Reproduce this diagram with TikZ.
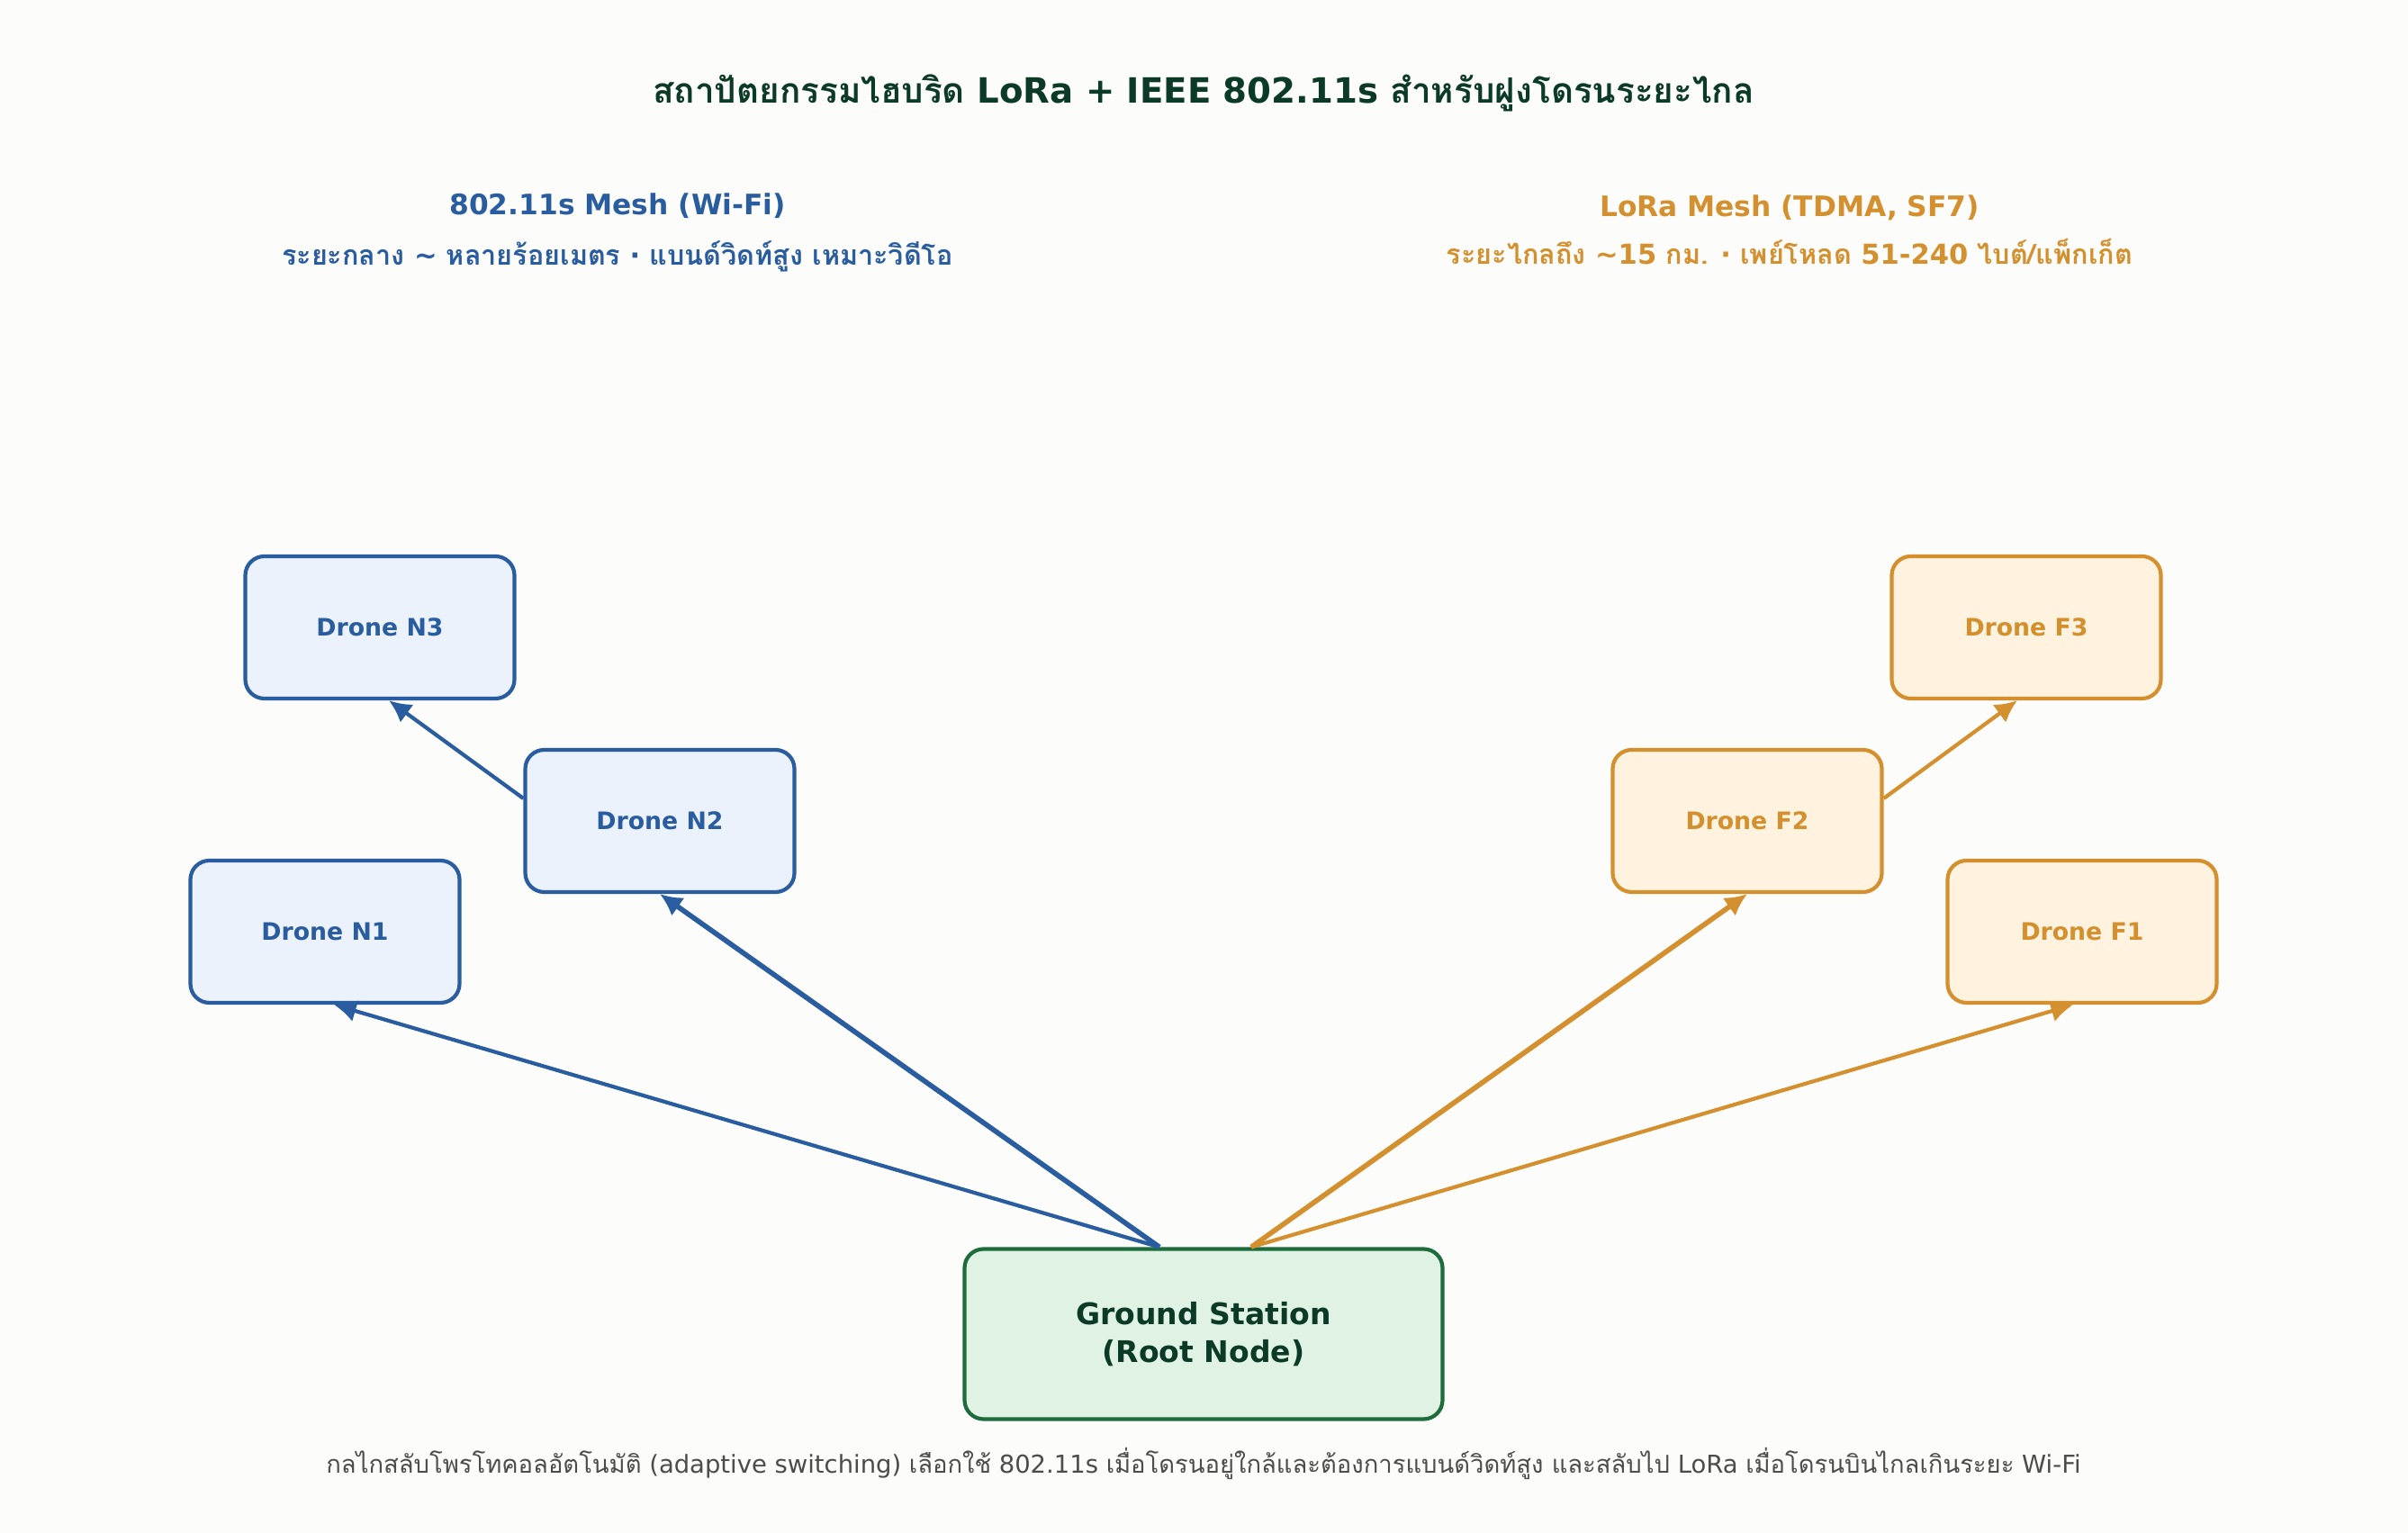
\documentclass[tikz,border=0pt]{standalone}
\usepackage{fontspec}
\setmainfont{DejaVu Sans}
\newfontfamily\thaifont[Script=Thai]{Loma}
\usetikzlibrary{positioning}
\usetikzlibrary{arrows.meta}
\definecolor{wifiblue}{RGB}{42,92,160}
\definecolor{wififill}{RGB}{235,242,252}
\definecolor{lorared}{RGB}{212,144,46}
\definecolor{lorafill}{RGB}{255,243,224}
\definecolor{rootgreen}{RGB}{30,107,60}
\definecolor{rootfill}{RGB}{223,242,227}
\definecolor{titlegreen}{RGB}{11,58,38}
\definecolor{bgpaper}{RGB}{252,252,250}
\newcommand{\dv}[1]{{\fontspec{DejaVu Sans}#1}}
\tikzset{every node/.style={align=center},
         drone/.style={ % Sets the properties for each drone box
           draw, very thick, rounded corners=6pt,
           minimum width=2.99cm, minimum height=1.58cm,
           font=\fontsize{7.6}{9}\selectfont\bfseries},
         wifi/.style={drone, draw=wifiblue, fill=wififill, text=wifiblue},
         lora/.style={drone, draw=lorared, fill=lorafill, text=lorared},
         link/.style={ % Sets the properties for each link
           draw, -{Latex[length=7pt,width=7pt]}, very thick}}
\begin{document}
\begin{tikzpicture}
  \fill[bgpaper] (0,0) rectangle (26.75,17.03);
  \useasboundingbox (0,0) rectangle (26.75,17.03);

  \node [text=titlegreen, font=\fontsize{11}{13}\selectfont\bfseries] (title) at (13.37,16.0)
    {{\thaifont สถาปัตยกรรมไฮบริด} LoRa + IEEE 802.11s {\thaifont สำหรับฝูงโดรนระยะไกล}};

  % headings
  \node [text=wifiblue, font=\fontsize{8.9}{10}\selectfont\bfseries] (wifihead) at (6.86,14.74) {802.11s Mesh (Wi-Fi)};
  \node [text=wifiblue, font=\fontsize{8.7}{10}\selectfont\bfseries\thaifont, below=0cm of wifihead] (wifisub)
    {ระยะกลาง \dv{\textasciitilde} หลายร้อยเมตร \dv{·} แบนด์วิดท์สูง เหมาะวิดีโอ};
  \node [text=lorared, font=\fontsize{8.9}{10}\selectfont\bfseries] (lorahead) at (19.88,14.72) {LoRa Mesh (TDMA, SF7)};
  \node [text=lorared, font=\fontsize{8.7}{10}\selectfont\bfseries\thaifont, below=-0.05cm of lorahead] (lorasub)
    {ระยะไกลถึง \dv{\textasciitilde15} กม. \dv{·} เพย์โหลด \dv{51-240} ไบต์/แพ็กเก็ต};

  % drones
  \node [wifi] (n3) at (4.22,10.06) {Drone N3};
  \node [wifi] (n2) at (7.33,7.91) {Drone N2};
  \node [wifi] (n1) at (3.61,6.68) {Drone N1};
  \node [lora] (f3) at (22.51,10.06) {Drone F3};
  \node [lora] (f2) at (19.41,7.91) {Drone F2};
  \node [lora] (f1) at (23.13,6.68) {Drone F1};

  \node [drone, draw=rootgreen, fill=rootfill, text=titlegreen, font=\fontsize{9.4}{12}\selectfont\bfseries,
    minimum width=5.31cm, minimum height=1.89cm] (gs) at (13.37,2.21) {Ground Station\\(Root Node)};

  % links
  \coordinate (gswifi) at ([xshift=-0.49cm]gs.north);
  \coordinate (gslora) at ([xshift=0.53cm]gs.north);
  \draw [link, wifiblue] (gswifi) -- ([xshift=0.1cm]n1.south);
  \draw [link, wifiblue, line width=1.6pt] (gswifi) -- (n2.south);
  \draw [link, wifiblue] ([yshift=0.25cm]n2.west) -- ([xshift=0.1cm]n3.south);
  \draw [link, lorared, line width=1.6pt] (gslora) -- (f2.south);
  \draw [link, lorared] (gslora) -- ([xshift=-0.1cm]f1.south);
  \draw [link, lorared] ([yshift=0.25cm]f2.east) -- ([xshift=-0.1cm]f3.south);

  \node [text=black!70, font=\fontsize{7.8}{9}\selectfont] (footer) at (13.37,0.77)
    {{\thaifont กลไกสลับโพรโทคอลอัตโนมัติ} (adaptive switching) {\thaifont เลือกใช้} 802.11s {\thaifont เมื่อโดรนอยู่ใกล้และต้องการแบนด์วิดท์สูง และสลับไป} LoRa {\thaifont เมื่อโดรนบินไกลเกินระยะ} Wi-Fi};
\end{tikzpicture}
\end{document}
